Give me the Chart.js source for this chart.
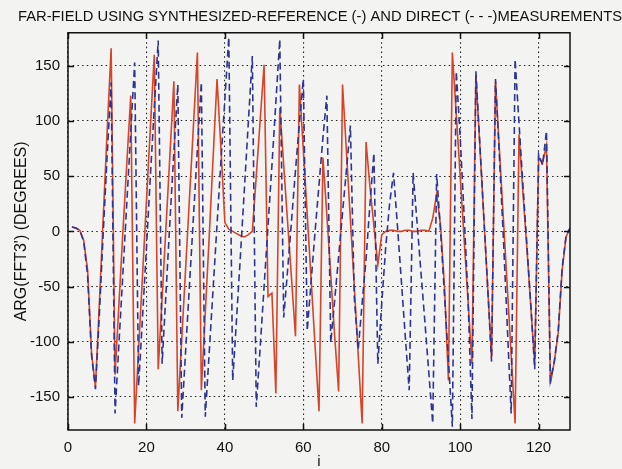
<!DOCTYPE html>
<html>
<head>
<meta charset="utf-8">
<script src="https://cdn.jsdelivr.net/npm/chart.js@4.4.0/dist/chart.umd.min.js"></script>
<style>
  html, body { margin: 0; padding: 0; background: #f3f3f1; }
</style>
</head>
<body>
<canvas id="phaseChart" width="622" height="469"></canvas>
<script>
// phase of far field, degrees, samples i = 1..128
var synthRef = [
  4, 3, 1, -8, -35, -110, -141, -65, 14, 92,
  166, -130, -65, 0, 62, 123, -174, -107, -40, 27,
  94, 160, -125, -60, 5, 70, 136, -163, -98, -33,
  32, 97, 162, -144, -74, -5, 67, 138, 75, 8,
  2, 0, -2, -4, -5, -3, 0, 50, 101, 151,
  -59, -56, -147, 112, 60, 8, -43, -95, 133, 74,
  15, -44, -104, -163, 67, 15, -40, -95, -145, 133,
  72, 11, -50, -112, -174, 81, 40, 5, -30, -3,
  0, 1, 1, 0, 0, 1, 1, 0, 0, 1,
  1, 0, 12, 34, 5, -50, -135, 162, 106, 50,
  -7, -63, -120, 142, 78, 14, -50, -114, 136, 74,
  12, -50, -112, -174, 88, 35, -15, -68, -120, 67,
  62, 78, -138, -118, -92, -35, -5, 3
];
var directMeas = [
  4, 3, 1, -9, -40, -112, -143, -75, 0, 70,
  135, -165, -101, -38, 26, 90, 153, -140, -78, -15,
  50, 112, 173, -120, -55, 10, 72, 133, -169, -108,
  -47, 14, 75, 135, -168, -110, -52, 6, 64, 120,
  176, -135, -78, -20, 40, 100, 159, -159, -105, -50,
  5, 60, 117, 174, -78, -35, 10, 55, 98, 138,
  -90, -45, 0, 42, 85, 123, -101, -62, -23, 17,
  56, 96, -60, -107, -65, -25, 25, 71, -120, -65,
  -15, 25, 53, 5, -45, -95, -144, 53, 8, -37,
  -82, -128, -174, 52, 0, -58, -117, -177, 145, 85,
  15, -60, -170, 145, 80, 15, -50, -118, 138, 68,
  -5, -85, -165, 156, 98, 42, -12, -66, -125, 70,
  60, 91, -135, -118, -90, -33, -4, 3
];
var xTicks = [0, 20, 40, 60, 80, 100, 120];
var yTicks = [-150, -100, -50, 0, 50, 100, 150];

function toPoints(arr) {
  return arr.map(function (v, k) { return { x: k + 1, y: v }; });
}

// matlab style box with inward tick marks
var boxTicks = {
  id: 'boxTicks',
  afterDraw: function (chart) {
    var ctx = chart.ctx, a = chart.chartArea;
    var sx = chart.scales.x, sy = chart.scales.y;
    ctx.save();
    ctx.strokeStyle = '#111';
    ctx.lineWidth = 1.5;
    ctx.strokeRect(a.left, a.top, a.right - a.left, a.bottom - a.top);
    ctx.beginPath();
    xTicks.forEach(function (t) {
      var px = Math.round(sx.getPixelForValue(t)) + 0.5;
      ctx.moveTo(px, a.bottom); ctx.lineTo(px, a.bottom - 6);
      ctx.moveTo(px, a.top); ctx.lineTo(px, a.top + 6);
    });
    yTicks.forEach(function (t) {
      var py = Math.round(sy.getPixelForValue(t)) + 0.5;
      ctx.moveTo(a.left, py); ctx.lineTo(a.left + 6, py);
      ctx.moveTo(a.right, py); ctx.lineTo(a.right - 6, py);
    });
    ctx.stroke();
    ctx.restore();
  }
};

var font = 'Liberation Sans, Arial, sans-serif';
var gridDots = [1.5, 3.2];

new Chart(document.getElementById('phaseChart').getContext('2d'), {
  type: 'line',
  data: {
    datasets: [{
      label: 'direct',
      data: toPoints(directMeas),
      borderColor: '#2d3592',
      borderWidth: 1.6,
      borderDash: [7, 4],
      pointRadius: 0,
      tension: 0,
      fill: false
    }, {
      label: 'synthesized reference',
      data: toPoints(synthRef),
      borderColor: '#d6442a',
      borderWidth: 1.6,
      pointRadius: 0,
      tension: 0,
      fill: false
    }]
  },
  options: {
    responsive: false,
    animation: false,
    layout: { padding: { left: 18, right: 0, top: 0, bottom: 0 } },
    plugins: {
      legend: { display: false },
      tooltip: { enabled: false },
      title: {
        display: true,
        text: 'FAR-FIELD USING SYNTHESIZED-REFERENCE (-) AND DIRECT (- - -)MEASUREMENTS',
        color: '#111',
        font: { family: font, size: 14.8, weight: 'normal' },
        padding: { top: 8, bottom: 7 }
      }
    },
    scales: {
      x: {
        type: 'linear',
        min: 0,
        max: 128,
        afterFit: function (s) { s.height = 39; },
        ticks: {
          stepSize: 20,
          includeBounds: false,
          padding: 9,
          color: '#111',
          maxRotation: 0,
          font: { family: font, size: 15 }
        },
        grid: { color: '#222', lineWidth: 1.1, drawTicks: false },
        border: { display: false, dash: gridDots },
        title: {
          display: true,
          text: 'i',
          color: '#111',
          font: { family: font, size: 15 },
          padding: { top: 0, bottom: -2 }
        }
      },
      y: {
        min: -180,
        max: 180,
        afterFit: function (s) { s.width = 50; },
        ticks: {
          stepSize: 50,
          includeBounds: false,
          padding: 8,
          color: '#111',
          font: { family: font, size: 15 }
        },
        grid: { color: '#222', lineWidth: 1.1, drawTicks: false },
        border: { display: false, dash: gridDots },
        title: {
          display: true,
          text: "ARG(FFT3') (DEGREES)",
          color: '#111',
          font: { family: font, size: 16 },
          padding: { top: -6, bottom: 0 }
        }
      },
      yRight: {
        type: 'linear',
        position: 'right',
        min: -180,
        max: 180,
        afterFit: function (s) { s.width = 52; },
        ticks: { display: false },
        grid: { display: false, drawTicks: false },
        border: { display: false }
      }
    }
  },
  plugins: [boxTicks]
});
</script>
</body>
</html>
